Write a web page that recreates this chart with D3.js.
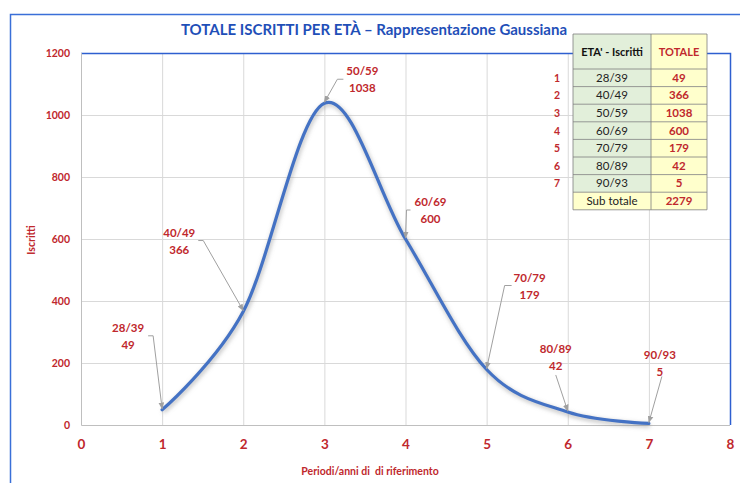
<!DOCTYPE html>
<html><head><meta charset="utf-8">
<script src="https://cdn.jsdelivr.net/npm/d3@7/dist/d3.min.js"></script>
<style>
body{margin:0;background:#fff;}
svg{display:block;font-family:Lato,"Open Sans",sans-serif;}
text{white-space:pre;}
</style></head>
<body><svg id="c" width="740" height="483"></svg>
<script>
// ---- data ----
const periods = [1,2,3,4,5,6,7];
const ageGroups = ["28/39","40/49","50/59","60/69","70/79","80/89","90/93"];
const iscritti = [49,366,1038,600,179,42,5];
const subTotalLabel = "Sub totale";
const subTotal = 2279;
const xTicks = [0,1,2,3,4,5,6,7,8];
const yTicks = [0,200,400,600,800,1000,1200];
const titleText = "TOTALE ISCRITTI PER ETÀ – Rappresentazione Gaussiana";
const xTitle = "Periodi/anni di  di riferimento";
const yTitle = "Iscritti";
const tableHeaders = ["ETA' - Iscritti","TOTALE"];

// ---- layout (px) ----
const labelOffsets = [[-34,-82],[-64,-79],[38,-32],[25,-37],[43,-92],[-12,-63],[11,-68]];
const leaderStarts = [[[20,0],[25,0]],[[19,0],[24,0]],[[-19,0],[-25,0]],[[-20,0],[-24,0]],[[-18,0],[-25,0]],[[0,18]],[[2,13]]];

const red = "#C0282D", blue = "#4472C4", titleBlue = "#1F4FB8";
const svg = d3.select("#c");
const L = 81, R = 730, T = 53, B = 425;
const x = d3.scaleLinear().domain([0,8]).range([L,R]);
const y = d3.scaleLinear().domain([0,1200]).range([B,T]);

// outer chart border
svg.append("path").attr("d","M10.5,483 L10.5,14.5 L740,14.5").attr("fill","none").attr("stroke","#3A6FD8").attr("stroke-width",1.5);

// gridlines
svg.append("g").selectAll("line.h").data(yTicks.filter(d=>d>0&&d<1200)).join("line")
  .attr("x1",L).attr("x2",R).attr("y1",d=>y(d)+0.5).attr("y2",d=>y(d)+0.5).attr("stroke","#D9D9D9");
svg.append("g").selectAll("line.v").data(xTicks.filter(d=>d>0&&d<8)).join("line")
  .attr("y1",T).attr("y2",B).attr("x1",d=>x(d)+0.5).attr("x2",d=>x(d)+0.5).attr("stroke","#D9D9D9");

// plot frame: top & right blue, left & bottom gray
svg.append("path").attr("d",`M${L},${T+0.5} L${R+0.5},${T+0.5} L${R+0.5},${B}`).attr("fill","none").attr("stroke","#2E5FD0").attr("stroke-width",1.5);
svg.append("path").attr("d",`M${L+0.5},${T} L${L+0.5},${B+0.5} L${R},${B+0.5}`).attr("fill","none").attr("stroke","#BFBFBF").attr("stroke-width",1);

// axes text
const yAxis = d3.axisLeft(y).tickValues(yTicks).tickFormat(d3.format("d")).tickSize(0).tickPadding(11);
const gy = svg.append("g").attr("transform",`translate(${L},0)`).call(yAxis);
gy.select(".domain").remove();
gy.selectAll("text").attr("fill",red).attr("font-weight","bold").attr("font-size","10.5px").attr("font-family","Lato,sans-serif");
const xAxis = d3.axisBottom(x).tickValues(xTicks).tickFormat(d3.format("d")).tickSize(0).tickPadding(14);
const gx = svg.append("g").attr("transform",`translate(0,${B})`).call(xAxis);
gx.select(".domain").remove();
gx.selectAll("text").attr("fill",red).attr("font-weight","bold").attr("font-size","13.5px").attr("font-family","Lato,sans-serif");

svg.append("text").attr("x",370).attr("y",475).attr("text-anchor","middle").attr("fill",red)
  .attr("font-weight","bold").attr("font-size","10.5px").text(xTitle);
svg.append("text").attr("transform","translate(35,240) rotate(-90)").attr("text-anchor","middle").attr("fill",red)
  .attr("font-weight","bold").attr("font-size","10.5px").text(yTitle);

// title
svg.append("text").attr("x",374).attr("y",35).attr("text-anchor","middle").attr("fill",titleBlue)
  .attr("font-weight","bold").attr("font-size","15px").text(titleText);

// curve with shadow
const defs = svg.append("defs");
const f = defs.append("filter").attr("id","sh").attr("x","-10%").attr("y","-10%").attr("width","120%").attr("height","120%");
f.append("feGaussianBlur").attr("stdDeviation",2);
const pts = periods.map((p,i)=>[p,iscritti[i]]);
const line = d3.line().x(d=>x(d[0])).y(d=>y(d[1])).curve(d3.curveCardinal.tension(0));
svg.append("path").attr("d",line(pts)).attr("fill","none").attr("stroke","#8a8a8a").attr("stroke-opacity",0.5)
  .attr("stroke-width",4).attr("filter","url(#sh)").attr("transform","translate(1,2)");
svg.append("path").attr("d",line(pts)).attr("fill","none").attr("stroke",blue).attr("stroke-width",3.2).attr("stroke-linecap","round");

// arrow marker
defs.append("marker").attr("id","arr").attr("viewBox","0 0 10 10").attr("refX",9).attr("refY",5)
  .attr("markerWidth",7).attr("markerHeight",7).attr("orient","auto")
  .append("path").attr("d","M0,1 L10,5 L0,9 Z").attr("fill","#A0A0A0");

// labels + leaders
const lab = svg.append("g");
pts.forEach((d,i)=>{
  const px = x(d[0]), py = y(d[1]);
  const cx = px + labelOffsets[i][0], cy = py + labelOffsets[i][1];
  const ptsL = leaderStarts[i].map(o=>[cx+o[0], cy+o[1]+8]);
  ptsL.push([px, py-1]);
  lab.append("path").attr("d",d3.line()(ptsL)).attr("fill","none").attr("stroke","#A0A0A0").attr("stroke-width",1)
    .attr("marker-end","url(#arr)");
  const t = lab.append("text").attr("text-anchor","middle").attr("fill",red).attr("font-weight","bold").attr("font-size","11.5px");
  t.append("tspan").attr("x",cx).attr("y",cy+4).text(ageGroups[i]);
  t.append("tspan").attr("x",cx).attr("y",cy+21).text(d[1]);
});

// table
const tx0 = 573, tx1 = 651, tx2 = 707, ty0 = 34, ty1 = 69, rh = 17.6;
const tb = svg.append("g");
tb.append("rect").attr("x",tx0).attr("y",ty0).attr("width",tx1-tx0).attr("height",ty1-ty0).attr("fill","#E2EFDA");
tb.append("rect").attr("x",tx1).attr("y",ty0).attr("width",tx2-tx1).attr("height",ty1-ty0).attr("fill","#FFFFCC");
tb.append("text").attr("x",(tx0+tx1)/2).attr("y",(ty0+ty1)/2+4).attr("text-anchor","middle").attr("font-weight","bold").attr("font-size","11px").attr("fill","#111").text(tableHeaders[0]);
tb.append("text").attr("x",(tx1+tx2)/2).attr("y",(ty0+ty1)/2+4).attr("text-anchor","middle").attr("font-weight","bold").attr("font-size","11px").attr("fill",red).text(tableHeaders[1]);
const rows = ageGroups.map((g,i)=>({n:String(periods[i]),a:g,v:iscritti[i]}));
rows.push({n:"",a:subTotalLabel,v:subTotal});
rows.forEach((r,i)=>{
  const ry = ty1 + i*rh;
  const last = i===rows.length-1;
  tb.append("rect").attr("x",tx0).attr("y",ry).attr("width",tx1-tx0).attr("height",rh).attr("fill",last?"#FFFFCC":"#E2EFDA");
  tb.append("rect").attr("x",tx1).attr("y",ry).attr("width",tx2-tx1).attr("height",rh).attr("fill","#FFFFCC");
  tb.append("text").attr("x",(tx0+tx1)/2).attr("y",ry+rh/2+4).attr("text-anchor","middle").attr("font-size","11.5px").attr("fill","#222").text(r.a);
  tb.append("text").attr("x",(tx1+tx2)/2).attr("y",ry+rh/2+4).attr("text-anchor","middle").attr("font-weight","bold").attr("font-size","11.5px").attr("fill",red).text(r.v);
  if(r.n) tb.append("text").attr("x",557).attr("y",ry+rh/2+4).attr("text-anchor","middle").attr("font-weight","bold").attr("font-size","10.5px").attr("fill",red).text(r.n);
});
// grid lines of table
const ny = rows.length;
for(let i=0;i<=ny+1;i++){
  const yy = i===0?ty0:ty1+(i-1)*rh;
  tb.append("line").attr("x1",tx0).attr("x2",tx2).attr("y1",yy).attr("y2",yy).attr("stroke","#7F7F7F").attr("stroke-width",0.8);
}
[tx0,tx1,tx2].forEach(xx=>tb.append("line").attr("x1",xx).attr("x2",xx).attr("y1",ty0).attr("y2",ty1+ny*rh).attr("stroke","#7F7F7F").attr("stroke-width",0.8));
</script></body></html>
